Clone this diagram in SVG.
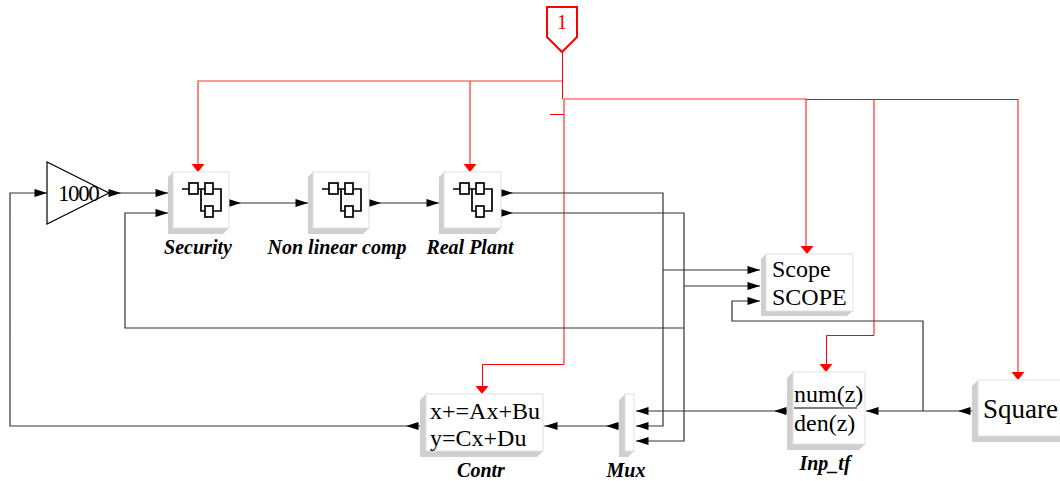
<svg xmlns="http://www.w3.org/2000/svg" width="1060" height="481" viewBox="0 0 1060 481">
<style>
text{font-family:"Liberation Serif","Times New Roman",serif;fill:#000}
.lb{font-size:20px;font-weight:bold;font-style:italic;text-anchor:middle}
.t{font-size:24px}
.f{fill:#fff;stroke:#e0e0e0;stroke-width:1}
.s{fill:#cfcfcf}
.k{fill:none;stroke:#333;stroke-width:1.2}
.r{fill:none;stroke:#f33;stroke-width:1.2}
.rs{fill:none;stroke:#f00;stroke-width:1}
.ic{fill:none;stroke:#000;stroke-width:1.7}
</style>
<defs>
<path id="ar" d="M-12.5,-4L0,0L-12.5,4Z" fill="#000"/>
<path id="al" d="M12.5,-4L0,0L12.5,4Z" fill="#000"/>
<path id="ad" d="M-6.5,-8L6.5,-8L0,0Z" fill="#f00"/>
<g id="sb">
<path class="ic" d="M14,17H21M30,17H37M45,17H53V39H45M33,17V39H37"/>
<rect class="ic" x="21" y="11" width="9" height="11"/>
<rect class="ic" x="37" y="11" width="8" height="11"/>
<rect class="ic" x="37" y="34" width="8" height="11"/>
</g>
</defs>
<g id="connectors">
<path class="r" d="M562,81H198V164M470,81V164M564,99H807M1018,99V372M806,99V246M874,99V335M564,99V364"/>
<path class="rs" d="M562.5,53V99M807,99.5H1018M874,335.5H826.5V364M564,364.5H482.5V386M550,114.5H564"/>
<path class="k" d="M420,426H10V193H47M109,193H168M168,213H125V328H684M229,203H308M369,203H439M501,193H663V426H636M501,213H684V441H636M663,270H760M684,286H760M760,301H732V321H923V411M972,411H866M787,411H636M619,426H544"/>
<g>
<use href="#ar" x="47" y="193"/><use href="#ar" x="121" y="193"/><use href="#ar" x="168" y="193"/><use href="#ar" x="168" y="213"/>
<use href="#ar" x="241" y="203"/><use href="#ar" x="308" y="203"/><use href="#ar" x="381" y="203"/><use href="#ar" x="439" y="203"/>
<use href="#ar" x="513" y="193"/><use href="#ar" x="513" y="213"/>
<use href="#ar" x="760" y="270"/><use href="#ar" x="760" y="286"/><use href="#ar" x="760" y="301"/>
<use href="#al" x="636" y="411"/><use href="#al" x="636" y="426"/><use href="#al" x="636" y="441"/>
<use href="#al" x="606" y="426"/><use href="#al" x="545" y="426"/><use href="#al" x="406" y="426"/>
<use href="#al" x="774" y="411"/><use href="#al" x="866" y="411"/><use href="#al" x="958" y="411"/>
<use href="#ad" x="198" y="172"/><use href="#ad" x="470" y="172"/><use href="#ad" x="807" y="254"/><use href="#ad" x="1018" y="380"/><use href="#ad" x="826" y="372"/><use href="#ad" x="482" y="394"/>
</g>
</g>
<g id="in1"><path d="M547,7H577V37L562,52L547,37Z" fill="#fff" stroke="#f00" stroke-width="2"/><text x="562" y="29" text-anchor="middle" style="font-size:21px;fill:#f00">1</text></g>
<g id="gain"><path d="M47,162V224L109,193Z" fill="#fff" stroke="#000" stroke-width="1.2"/><text x="58" y="201" style="font-size:23px;letter-spacing:-1.4px">1000</text></g>
<g id="security"><path class="s" d="M173,172L168,177V234H223L229,228H173Z"/><rect class="f" x="173" y="172" width="56" height="56"/><use href="#sb" x="168" y="172"/><text class="lb" x="198" y="254">Security</text></g>
<g id="nonlinear"><path class="s" d="M313,172L308,177V234H363L369,228H313Z"/><rect class="f" x="313" y="172" width="56" height="56"/><use href="#sb" x="308" y="172"/><text class="lb" x="337" y="254">Non linear comp</text></g>
<g id="realplant"><path class="s" d="M444,172L439,177V234H495L501,228H444Z"/><rect class="f" x="444" y="172" width="57" height="56"/><use href="#sb" x="439" y="172"/><text class="lb" x="470" y="254">Real Plant</text></g>
<g id="scope"><path class="s" d="M766,254L761,259V316H847L853,311H766Z"/><rect class="f" x="766" y="254" width="87" height="57"/><text class="t" x="772" y="277">Scope</text><text class="t" x="772" y="305">SCOPE</text></g>
<g id="contr"><path class="s" d="M426,394L420,400V457H537L543,451H426Z"/><rect class="f" x="426" y="394" width="117" height="57"/><text class="t" x="430" y="419">x+=Ax+Bu</text><text class="t" x="430" y="446">y=Cx+Du</text><text class="lb" x="481" y="477">Contr</text></g>
<g id="mux"><path class="s" d="M625,394L619,400V457H628L634,451H625Z"/><rect class="f" x="625" y="394" width="9" height="57"/><text class="lb" x="626" y="477">Mux</text></g>
<g id="inptf"><path class="s" d="M793,372L787,378V450H859L865,444H793Z"/><rect class="f" x="793" y="372" width="72" height="72"/><text class="t" x="794" y="402">num(z)</text><path d="M794,408H857" stroke="#000" stroke-width="1.2"/><text class="t" x="794" y="431">den(z)</text><text class="lb" x="825" y="470">Inp_tf</text></g>
<g id="square"><path class="s" d="M978,380L972,386V442H1064V436H978Z"/><rect class="f" x="978" y="380" width="86" height="56"/><text x="983" y="418" style="font-size:27px">Square</text></g>
</svg>
